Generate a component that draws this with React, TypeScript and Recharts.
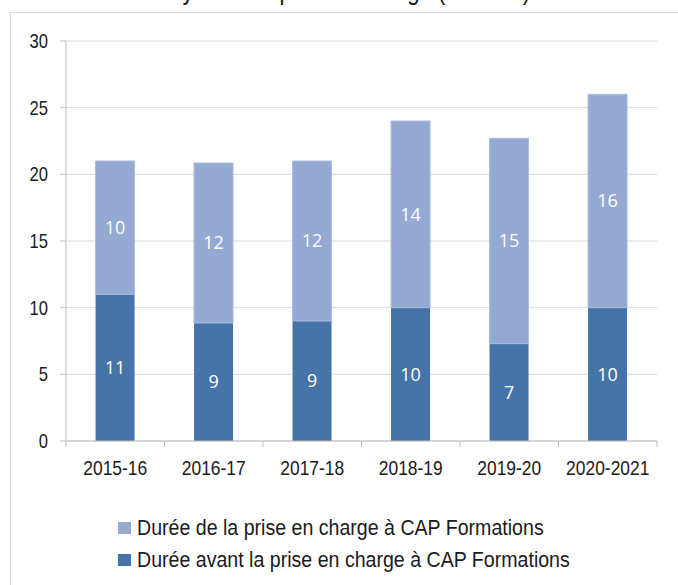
import React from 'react';
import { BarChart, Bar, XAxis, YAxis, CartesianGrid, LabelList } from 'recharts';

const categories = ['2015-16', '2016-17', '2017-18', '2018-19', '2019-20', '2020-2021'];
// durée avant la prise en charge (mois)
const dureeAvant = [11, 8.85, 9, 10, 7.3, 10];
// durée de la prise en charge (mois)
const dureePrise = [10, 12, 12, 14, 15.4, 16];
const yTicks = [0, 5, 10, 15, 20, 25, 30];

const nomAvant = 'Durée avant la prise en charge à CAP Formations';
const nomPrise = 'Durée de la prise en charge à CAP Formations';
const titre = 'Durée moyenne de prise en charge (en mois)';

const DARK = '#4673a8';
const LIGHT = '#95aad2';
// pas de police étroite installée : Liberation Sans compressée horizontalement
const SANS = '"Liberation Sans", Arial, sans-serif';

const chartData = categories.map((c, i) => ({
  annee: c,
  avant: dureeAvant[i],
  prise: dureePrise[i],
}));

// largeur du tracé / nombre de catégories, pour les graduations entre catégories
const BAND = (678 - 66 - 21) / categories.length;

function XTick(props: any) {
  const { x, y, payload, index } = props;
  const left = x - BAND / 2;
  const isLast = index === categories.length - 1;
  return (
    <g>
      <line x1={left} x2={left} y1={y - 8} y2={y - 2} stroke="#bfbfbf" />
      {isLast && <line x1={left + BAND} x2={left + BAND} y1={y - 8} y2={y - 2} stroke="#bfbfbf" />}
      <text
        transform={`translate(${x},${y + 26}) scale(0.83,1)`}
        textAnchor="middle"
        fontSize={21}
        fontFamily={SANS}
        fill="#1a1a1a"
      >
        {payload.value}
      </text>
    </g>
  );
}

function YTick(props: any) {
  const { x, y, payload } = props;
  return (
    <text
      transform={`translate(${x - 12},${y + 7}) scale(0.83,1)`}
      textAnchor="end"
      fontSize={20}
      fontFamily={SANS}
      fill="#1a1a1a"
    >
      {payload.value}
    </text>
  );
}

const fmt = (v: any) => String(Math.round(Number(v)));

export default function App() {
  return (
    <div style={{ position: 'fixed', left: 0, top: 0, width: 678, height: 585, background: '#fff', overflow: 'hidden' }}>
      <div
        style={{
          position: 'absolute',
          top: -22,
          right: 148,
          fontFamily: SANS,
          fontSize: 26,
          lineHeight: '26px',
          whiteSpace: 'nowrap',
          color: '#1a1a1a',
          transform: 'scaleX(0.85)',
          transformOrigin: 'right center',
        }}
      >
        {titre}
      </div>
      <div style={{ position: 'absolute', left: 10, top: 12, width: 720, height: 620, border: '1px solid #d9d9d9' }} />
      <div style={{ position: 'absolute', left: 0, top: 0 }}>
        <BarChart
          width={678}
          height={585}
          data={chartData}
          margin={{ top: 41, right: 21, left: 0, bottom: 114 }}
          barCategoryGap="30%"
        >
          <CartesianGrid vertical={false} stroke="#d9d9d9" />
          <XAxis
            dataKey="annee"
            height={30}
            stroke="#bfbfbf"
            tickLine={false}
            tick={<XTick />}
            interval={0}
          />
          <YAxis
            width={66}
            domain={[0, 30]}
            ticks={yTicks}
            interval={0}
            stroke="#bfbfbf"
            tickSize={6}
            tickMargin={0}
            tick={<YTick />}
          />
          <Bar dataKey="avant" name={nomAvant} stackId="a" fill={DARK} isAnimationActive={false}>
            <LabelList dataKey="avant" position="center" formatter={fmt} fill="#fff" fontSize={18} fontFamily='"Open Sans", sans-serif' />
          </Bar>
          <Bar dataKey="prise" name={nomPrise} stackId="a" fill={LIGHT} stroke="#a9bbdc" isAnimationActive={false}>
            <LabelList dataKey="prise" position="center" formatter={fmt} fill="#fff" stroke="none" fontSize={18} fontFamily='"Open Sans", sans-serif' />
          </Bar>
        </BarChart>
      </div>
      <div style={{ position: 'absolute', left: 118, top: 512, fontFamily: SANS, fontSize: 22, color: '#1a1a1a' }}>
        {[
          { nom: nomPrise, couleur: LIGHT },
          { nom: nomAvant, couleur: DARK },
        ].map((it) => (
          <div key={it.nom} style={{ display: 'flex', alignItems: 'center', height: 32, whiteSpace: 'nowrap' }}>
            <span style={{ display: 'inline-block', width: 13, height: 12, background: it.couleur, marginRight: 6, flex: 'none' }} />
            <span style={{ display: 'inline-block', transform: 'scaleX(0.89)', transformOrigin: 'left center' }}>{it.nom}</span>
          </div>
        ))}
      </div>
    </div>
  );
}
